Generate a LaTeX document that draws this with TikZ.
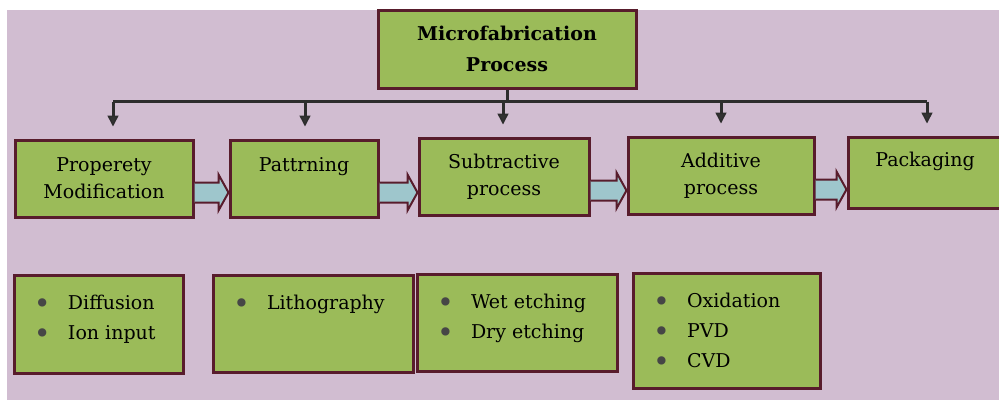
\documentclass[tikz,border=0pt]{standalone}
\usepackage{fontspec}
\setmainfont{DejaVu Serif}
\usetikzlibrary{arrows.meta}
\usetikzlibrary{calc}

\definecolor{bgpink}{RGB}{209,189,209}
\definecolor{boxgreen}{RGB}{155,187,89}
\definecolor{edge}{RGB}{88,28,44}
\definecolor{arrblue}{RGB}{158,198,204}
\definecolor{busgray}{RGB}{45,45,45}
\definecolor{dotgray}{RGB}{70,70,70}

% one bullet line of a list box
\newcommand{\itm}[1]{\hspace*{20pt}\makebox[34pt][l]{\raisebox{-4pt}{\scalebox{1.5}{\textcolor{dotgray}{\textbullet}}}}\strut#1\par}
% list box body: width, height, items
\newcommand{\lst}[3]{\parbox[c][#2pt][t]{#1pt}{\vspace*{13pt}#3}}
% fat arrow from one box to the next
\newcommand{\blkarr}[2]{%
  \filldraw[blk] let \p1=([yshift=-14pt]#1.east), \p2=(#2.west) in
    (\x1,\y1+10pt) -- (\x2-10pt,\y1+10pt) -- (\x2-10pt,\y1+18pt) -- (\x2,\y1)
    -- (\x2-10pt,\y1-18pt) -- (\x2-10pt,\y1-10pt) -- (\x1,\y1-10pt);}

\begin{document}
\begin{tikzpicture}
	[x=1pt,y=-1pt,
	box/.style={draw=edge,fill=boxgreen,line width=3pt,inner sep=0pt,align=center,
		font=\fontsize{19}{27}\selectfont},
	bus/.style={draw=busgray,line width=3pt},
	blk/.style={draw=edge,fill=arrblue,line width=2pt,line join=miter}]
	\useasboundingbox (0,0) rectangle (999,400);
	\fill[bgpink] (7,10) rectangle (999,400);

	\node[box,font=\bfseries\fontsize{19}{31}\selectfont,minimum width=258pt,minimum height=78pt] (title) at (507,49) {Microfabrication\\Process};

	% process steps
	\node[box,minimum width=178pt,minimum height=77pt] (prop) at (104,178.5) {Properety\\Modification};
	\node[box,minimum width=148pt,minimum height=77pt] (patt) at (304,178.5) {Pattrning\\\phantom{x}};
	\node[box,minimum width=170pt,minimum height=77pt] (subt) at (504,176.5) {Subtractive\\process};
	\node[box,minimum width=186pt,minimum height=77pt] (addi) at (721,175.5) {Additive\\process};
	\node[box,minimum width=154pt,minimum height=71pt] (pack) at (925,172.5) {Packaging\\\phantom{x}};

	% what each step covers
	\node[box,font=\fontsize{19}{30}\selectfont] (diff) at (98.5,324) {\lst{169}{98}{\itm{Diffusion}\itm{Ion input}}};
	\node[box,font=\fontsize{19}{30}\selectfont] (litho) at (313,323.5) {\lst{200}{97}{\itm{Lithography}}};
	\node[box,font=\fontsize{19}{30}\selectfont] (etch) at (517,322.5) {\lst{200}{97}{\itm{Wet etching}\itm{Dry etching}}};
	\node[box,font=\fontsize{19}{30}\selectfont] (oxid) at (726.5,330.5) {\lst{187}{115}{\itm{Oxidation}\itm{PVD}\itm{CVD}}};

	% bus from the title down to every step
	\draw[bus] (title.south) -- ++(0,12) coordinate (bj);
	\draw[bus] ([xshift=9pt]bj -| prop.north) -- ([xshift=2pt]bj -| pack.north);
	\foreach \n/\dx in {prop/9,patt/1,subt/-1,addi/0,pack/2}
	\draw[bus,-{Triangle[fill=gray!40!black,length=11pt,width=11pt,line width=1.5pt]}]
		([xshift=\dx pt]bj -| \n.north) -- ([xshift=\dx pt,yshift=12pt]\n.north);

	\foreach \from/\to in {prop/patt,patt/subt,subt/addi,addi/pack}
	{\blkarr{\from}{\to}}
\end{tikzpicture}
\end{document}
